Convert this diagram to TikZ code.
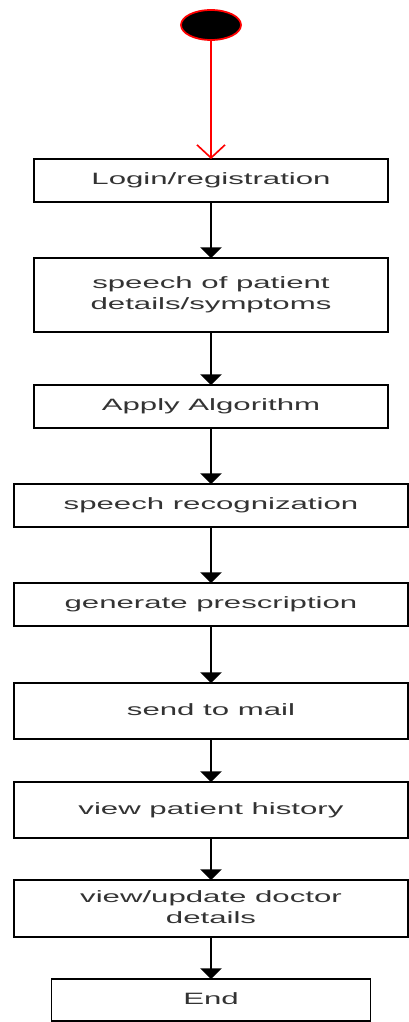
\documentclass[tikz,border=0pt]{standalone}
\usepackage{fontspec}
\setmainfont{Liberation Sans}
\usepackage{graphicx}
\usepackage{xcolor}
\usepackage{tikz}
\usetikzlibrary{arrows.meta,positioning,shapes.geometric}

\newcommand{\wtxt}[1]{\scalebox{1.9}[1]{\begin{tabular}{@{}c@{}}#1\end{tabular}}}

\begin{document}
\begin{tikzpicture}[node distance={1.68cm}, line width=1.5pt, >={Triangle[width=0.64cm,length=0.32cm]}, act/.style = {draw, rectangle, outer sep=0pt, minimum width=11.8cm, minimum height=1.29cm, text=black!80, font=\fontsize{14}{18}\selectfont}]
\useasboundingbox (0,0) rectangle (12.27,-30.66);
\node[ellipse, draw=red, fill=black, outer sep=0pt, minimum width=1.8cm, minimum height=0.9cm] (start) at (6.33,-0.75) {};
\node[act, minimum width=10.62cm] (login) [below=3.57cm of start] {\wtxt{Login/registration}};
\node[act, minimum width=10.62cm, minimum height=2.22cm] (speech) [below=of login] {\wtxt{speech of patient\\details/symptoms}};
\node[act, minimum width=10.62cm] (algo) [below=1.59cm of speech] {\wtxt{Apply Algorithm}};
\node[act] (recog) [below=of algo] {\wtxt{speech recognization}};
\node[act] (presc) [below=of recog] {\wtxt{generate prescription}};
\node[act, minimum height=1.68cm] (mail) [below=1.71cm of presc] {\wtxt{send to mail}};
\node[act, minimum height=1.68cm] (hist) [below=1.29cm of mail] {\wtxt{view patient history}};
\node[act, minimum height=1.71cm] (doctor) [below=1.26cm of hist] {\wtxt{view/update doctor\\details}};
\node[act, minimum width=9.57cm, minimum height=1.26cm] (end) [below=1.26cm of doctor] {\wtxt{End}};
\draw[red, line width=1.4pt, -{Straight Barb[width=0.84cm,length=0.39cm]}] (start) -- (login);
\draw[->] (login) -- (speech);
\draw[->] (speech) -- (algo);
\draw[->] (algo) -- (recog);
\draw[->] (recog) -- (presc);
\draw[->] (presc) -- (mail);
\draw[->] (mail) -- (hist);
\draw[->] (hist) -- (doctor);
\draw[->] (doctor) -- (end);
\end{tikzpicture}
\end{document}
